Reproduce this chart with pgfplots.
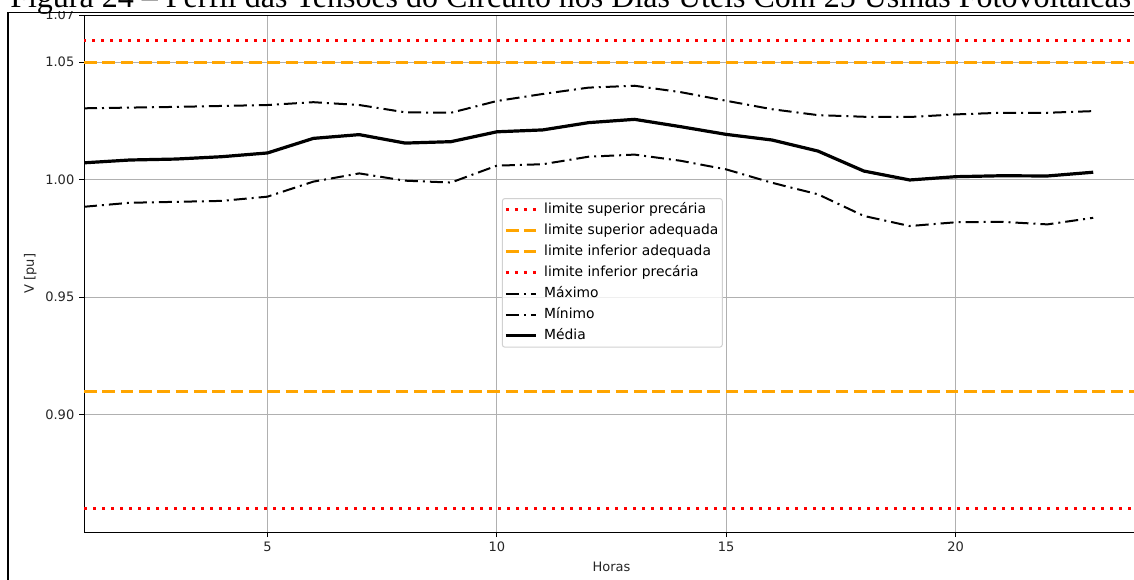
\documentclass[border=0pt]{standalone}
\usepackage{fontspec}
\setmainfont{DejaVu Sans}
\newfontfamily\titlefont{Liberation Serif}
\usepackage{pgfplots}
\pgfplotsset{compat=1.18}
\usepackage{graphicx}
\definecolor{mplorange}{HTML}{FFA500}
\definecolor{mplred}{HTML}{FF0000}
\begin{document}
\begin{tikzpicture}
\begin{axis}[
  at={(63pt,-399pt)}, anchor=south west,
  scale only axis, width=791.3pt, height=387.75pt,
  xmin=1, xmax=24, ymin=0.85, ymax=1.07,
  xtick={5,10,15,20},
  ytick={0.90,0.95,1.00,1.05,1.07},
  yticklabels={0.90,0.95,1.00,1.05,1.07},
  /pgf/number format/assume math mode=true,
  grid=major, grid style={color=black!31, line width=0.75pt},
  axis line style={line width=0.75pt},
  tick align=outside, major tick length=3.75pt,
  tick style={black, line width=0.75pt},
  xtick pos=bottom, ytick pos=left,
  ticklabel style={font=\fontsize{9.75}{11}\selectfont, text=black!85},
  xlabel={Horas}, ylabel={V [pu]},
  label style={font=\fontsize{9.75}{11}\selectfont, text=black!85},
  xlabel style={at={(axis description cs:0.5,-0.068)}, anchor=center},
  ylabel style={at={(axis description cs:-0.051,0.5)}, anchor=center},
  legend image code/.code={\draw[#1, line cap=butt] (0pt,0pt) -- (22.5pt,0pt);},
  legend style={at={(0.396,0.646)}, anchor=north west, draw=black!18,
    fill=white, fill opacity=0.8, text opacity=1, rounded corners=2pt,
    line width=0.75pt, inner xsep=1.5pt, inner ysep=2pt,
    font=\fontsize{10.4}{12}\selectfont, cells={anchor=west},
    nodes={inner sep=1.5pt, text height=7.6pt, text depth=2.4pt},
    /tikz/every odd column/.append style={column sep=3.5pt},
    row sep=2.75pt},
]
\addplot[mplred, line width=2.25pt, dash pattern=on 2.25pt off 4.5pt] coordinates {(0,1.059) (25,1.059)};
\addlegendentry{limite superior precária}
\addplot[mplorange, line width=2.25pt, dash pattern=on 9.5pt off 4.25pt] coordinates {(1,1.05) (25,1.05)};
\addlegendentry{limite superior adequada}
\addplot[mplorange, line width=2.25pt, dash pattern=on 9.5pt off 4.25pt] coordinates {(1,0.91) (25,0.91)};
\addlegendentry{limite inferior adequada}
\addplot[mplred, line width=2.25pt, dash pattern=on 2.25pt off 4.5pt] coordinates {(1,0.86) (25,0.86)};
\addlegendentry{limite inferior precária}
\addplot[black, line width=1.5pt, dash pattern=on 9.75pt off 3.75pt on 1.5pt off 3.75pt] coordinates {
(1,1.0303) (2,1.0306) (3,1.0309) (4,1.0313) (5,1.0317) (6,1.0329) (7,1.0317) (8,1.0286)
(9,1.0284) (10,1.0334) (11,1.0364) (12,1.0391) (13,1.0399) (14,1.0372) (15,1.0335) (16,1.0299)
(17,1.0274) (18,1.0267) (19,1.0266) (20,1.0277) (21,1.0284) (22,1.0284) (23,1.0291)};
\addlegendentry{Máximo}
\addplot[black, line width=1.5pt, dash pattern=on 9.75pt off 3.75pt on 1.5pt off 3.75pt] coordinates {
(1,0.9884) (2,0.9901) (3,0.9905) (4,0.9909) (5,0.9927) (6,0.9991) (7,1.0026) (8,0.9995)
(9,0.9987) (10,1.0059) (11,1.0065) (12,1.0097) (13,1.0106) (14,1.0080) (15,1.0043) (16,0.9986)
(17,0.9937) (18,0.9845) (19,0.9802) (20,0.9818) (21,0.9820) (22,0.9809) (23,0.9837)};
\addlegendentry{Mínimo}
\addplot[black, line width=2.4pt] coordinates {
(1,1.0071) (2,1.0083) (3,1.0087) (4,1.0097) (5,1.0113) (6,1.0175) (7,1.0191) (8,1.0155)
(9,1.0161) (10,1.0203) (11,1.0211) (12,1.0242) (13,1.0256) (14,1.0225) (15,1.0192) (16,1.0168)
(17,1.0121) (18,1.0036) (19,0.9998) (20,1.0012) (21,1.0016) (22,1.0015) (23,1.0031)};
\addlegendentry{Média}
\end{axis}
% white band at the top (page crop) and the title of the document
\fill[white] (-5pt,5pt) rectangle (860pt,-8.6pt);
\draw[line width=1.2pt] (6.2pt,-440pt) -- (6.2pt,-9.5pt) -- (860pt,-9.5pt);
\node[anchor=base west, inner sep=0pt] at (7.5pt,-5.6pt)
  {\resizebox{840.75pt}{!}{\titlefont Figura 24 – Perfil das Tensões do Circuito nos Dias Úteis Com 25 Usinas Fotovoltaicas}};
\pgfresetboundingbox
\useasboundingbox (0pt,0pt) rectangle (850.5pt,-434.25pt);
\end{tikzpicture}
\end{document}
